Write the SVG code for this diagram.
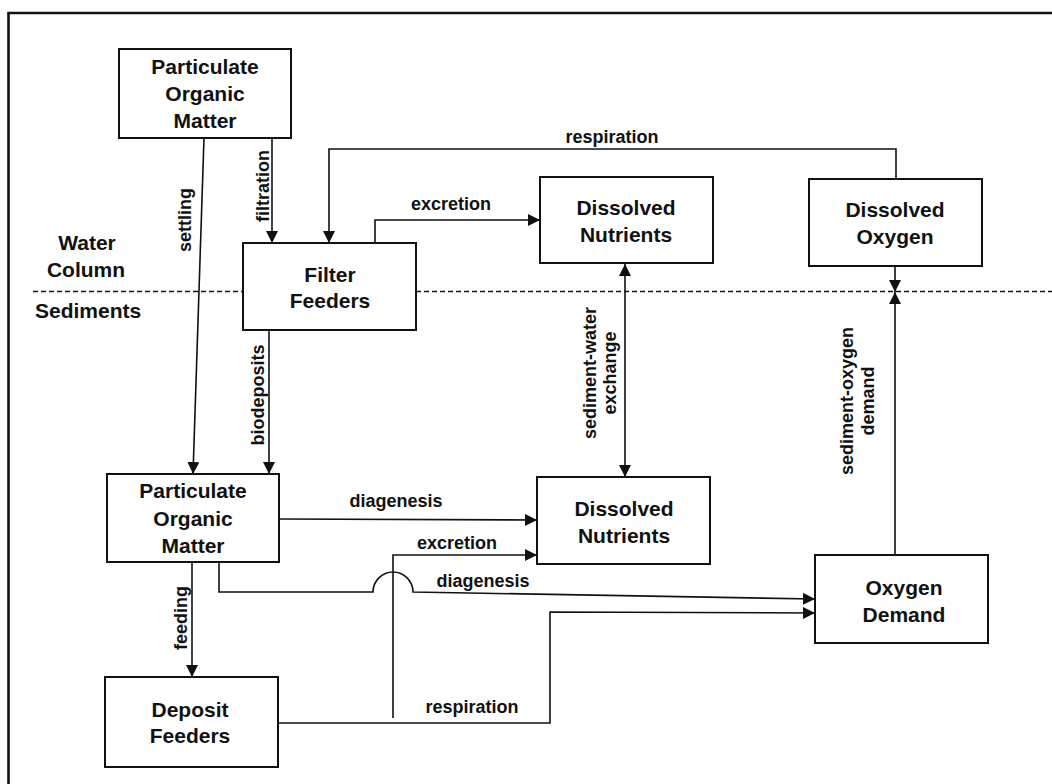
<svg xmlns="http://www.w3.org/2000/svg" width="1052" height="784" viewBox="0 0 1052 784">
<style>
.box{fill:#fff;stroke:#111;stroke-width:2}
.nt{font-family:"Liberation Sans",Arial,sans-serif;font-weight:bold;font-size:21px;fill:#111;text-anchor:middle}
.el{font-family:"Liberation Sans",Arial,sans-serif;font-weight:bold;font-size:18px;fill:#111;text-anchor:middle}
.zl{font-family:"Liberation Sans",Arial,sans-serif;font-weight:bold;font-size:21px;fill:#111}
.c{fill:none;stroke:#111;stroke-width:1.6}
.ca{fill:none;stroke:#111;stroke-width:1.6;marker-end:url(#ah)}
.cb{fill:none;stroke:#111;stroke-width:1.6;marker-end:url(#ah);marker-start:url(#ah)}
</style>
<defs>
<marker id="ah" viewBox="0 0 12 12" refX="12" refY="6" markerWidth="12" markerHeight="12" markerUnits="userSpaceOnUse" orient="auto-start-reverse">
<path d="M0,0 L12,6 L0,12 z" fill="#111"/>
</marker>
</defs>
<rect width="1052" height="784" fill="#fff"/>
<g id="frame">
<path d="M8.5,784 V13 H1052" fill="none" stroke="#111" stroke-width="2.6"/>
</g>
<g id="zones">
<path d="M33,291.5 H243 M416,291.5 H1052" fill="none" stroke="#111" stroke-width="1.5" stroke-dasharray="5,3"/>
<text class="zl" x="87" y="250" text-anchor="middle">Water</text>
<text class="zl" x="86" y="277" text-anchor="middle">Column</text>
<text class="zl" x="35" y="318">Sediments</text>
</g>
<g id="connectors">
<path class="ca" d="M204,138 L193,474"/>
<text class="el" transform="translate(191,220) rotate(-90)">settling</text>
<path class="ca" d="M272,138 V243"/>
<text class="el" transform="translate(269,186) rotate(-90)">filtration</text>
<path class="ca" d="M896,179 V149 H329 V243"/>
<text class="el" x="612" y="143">respiration</text>
<path class="ca" d="M375,243 V220 H540"/>
<text class="el" x="451" y="210">excretion</text>
<path class="cb" d="M625,264 V477"/>
<text class="el" transform="translate(596,373) rotate(-90)">sediment-water</text>
<text class="el" transform="translate(616,373) rotate(-90)">exchange</text>
<path class="ca" d="M895,266 V292"/>
<path class="ca" d="M895,555 V292"/>
<text class="el" transform="translate(853,401) rotate(-90)">sediment-oxygen</text>
<text class="el" transform="translate(874,401) rotate(-90)">demand</text>
<path class="ca" d="M269,330 V474"/>
<text class="el" transform="translate(264,395) rotate(-90)">biodeposits</text>
<path class="ca" d="M279,519 L537,520"/>
<text class="el" x="396" y="507">diagenesis</text>
<path class="ca" d="M393,718 V555 H537"/>
<text class="el" x="457" y="549">excretion</text>
<path class="ca" d="M219,562 V592 H373 A20,20 0 0 1 413,592 L815,599"/>
<text class="el" x="483" y="587">diagenesis</text>
<path class="ca" d="M278,723 H550 V612 L815,613"/>
<text class="el" x="472" y="713">respiration</text>
<path class="ca" d="M192,562 V677"/>
<text class="el" transform="translate(187,618) rotate(-90)">feeding</text>
</g>
<g id="pom-water">
<rect class="box" x="119" y="49" width="172" height="89"/>
<text class="nt" x="205" y="74">Particulate</text>
<text class="nt" x="205" y="101">Organic</text>
<text class="nt" x="205" y="128">Matter</text>
</g>
<g id="filter-feeders">
<rect class="box" x="243" y="243" width="173" height="87"/>
<text class="nt" x="330" y="282">Filter</text>
<text class="nt" x="330" y="308">Feeders</text>
</g>
<g id="dn-water">
<rect class="box" x="540" y="177" width="173" height="86"/>
<text class="nt" x="626" y="215">Dissolved</text>
<text class="nt" x="626" y="242">Nutrients</text>
</g>
<g id="do-water">
<rect class="box" x="809" y="179" width="173" height="87"/>
<text class="nt" x="895" y="217">Dissolved</text>
<text class="nt" x="895" y="244">Oxygen</text>
</g>
<g id="pom-sed">
<rect class="box" x="107" y="474" width="172" height="88"/>
<text class="nt" x="193" y="498">Particulate</text>
<text class="nt" x="193" y="526">Organic</text>
<text class="nt" x="193" y="553">Matter</text>
</g>
<g id="dn-sed">
<rect class="box" x="537" y="477" width="173" height="87"/>
<text class="nt" x="624" y="516">Dissolved</text>
<text class="nt" x="624" y="543">Nutrients</text>
</g>
<g id="oxygen-demand">
<rect class="box" x="815" y="555" width="173" height="88"/>
<text class="nt" x="904" y="595">Oxygen</text>
<text class="nt" x="904" y="622">Demand</text>
</g>
<g id="deposit-feeders">
<rect class="box" x="105" y="677" width="173" height="90"/>
<text class="nt" x="190" y="717">Deposit</text>
<text class="nt" x="190" y="743">Feeders</text>
</g>
</svg>
